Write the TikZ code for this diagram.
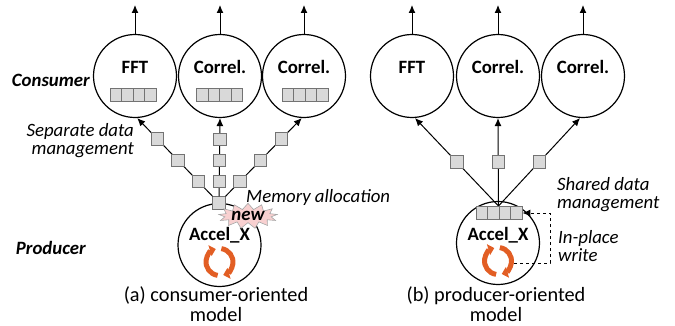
\documentclass[tikz,border=0pt]{standalone}
\usepackage{fontspec}
\setmainfont{Carlito}
\usetikzlibrary{arrows.meta,shapes.symbols}

\definecolor{iconorange}{RGB}{226,94,36}
\definecolor{cellgray}{RGB}{217,217,217}
\definecolor{burstpink}{RGB}{248,208,208}
\newcommand{\lblsize}{\fontsize{18.8}{18}\selectfont}
\newcommand{\capsize}{\fontsize{20.3}{19.5}\selectfont}

\begin{document}
\begin{tikzpicture}[x=1pt,y=1pt]
\tikzstyle{every node}+=[inner sep=0pt]
\tikzstyle{task}=[draw=black, circle, line width=1.2pt, minimum size=83pt]
\tikzstyle{tname}=[font=\lblsize\bfseries]
\tikzstyle{lbl}=[font=\lblsize\itshape]
\tikzstyle{cell}=[draw=black!55, fill=cellgray, line width=0.9pt, minimum width=11.5pt, minimum height=13.5pt]
\tikzstyle{pkt}=[draw=black!55, fill=cellgray, line width=0.9pt, minimum size=12.5pt]
\tikzstyle{flow}=[line width=1pt, -{Latex[length=8pt,width=7pt]}]
\tikzstyle{spin}=[draw=iconorange, line width=5pt, -{Triangle[length=6pt,width=11pt]}]
\useasboundingbox (0,0) rectangle (675,-326);

% (a) consumer-oriented
\node [task] (fftA) at (135,-76) {};
\node [task] (corA) at (220,-76) {};
\node [task] (cortA) at (304,-76) {};
\node [tname] (fftAt) at (135,-67) {FFT};
\node [tname] (corAt) at (220,-67) {Correl.};
\node [tname] (cortAt) at (304,-67) {Correl.};
\coordinate (fftAo) at (135,-5);
\coordinate (corAo) at (220,-5);
\coordinate (cortAo) at (304,-5);
\draw [flow] (fftA) -- (fftAo);
\draw [flow] (corA) -- (corAo);
\draw [flow] (cortA) -- (cortAo);
\foreach \k in {1,...,4} {
  \node [cell] (fftAb\k) at ({133+(\k-2.5)*11.5},-95) {};
  \node [cell] (corAb\k) at ({219.5+(\k-2.5)*11.5},-95) {};
  \node [cell] (cortAb\k) at ({305+(\k-2.5)*11.5},-95) {};
}
\node [task] (accA) at (219.5,-245) {};
\node [tname] (accAt) at (219.5,-235) {Accel\_X};
\coordinate (iconA) at (219.5,-262);
\draw [spin] ([shift={(262:13.5)}]iconA) arc [start angle=262, end angle=106, radius=13.5];
\draw [spin] ([shift={(82:13.5)}]iconA) arc [start angle=82, end angle=-74, radius=13.5];
\node [pkt] (hubA) at (219,-203) {};
\draw [flow] (hubA) -- (fftA.-87)
  node [pkt,pos=0.19] (qA1) {} node [pkt,pos=0.46] (qA2) {} node [pkt,pos=0.73] (qA3) {};
\draw [flow] (hubA) -- (corA.south)
  node [pkt,pos=0.19] (qB1) {} node [pkt,pos=0.46] (qB2) {} node [pkt,pos=0.73] (qB3) {};
\draw [flow] (hubA) -- (cortA.-93)
  node [pkt,pos=0.19] (qC1) {} node [pkt,pos=0.46] (qC2) {} node [pkt,pos=0.73] (qC3) {};
\node [starburst, draw=black!35, fill=burstpink, line width=0.6pt, starburst points=13,
  starburst point height=6pt, random starburst=0, minimum width=54pt, minimum height=18pt,
  font=\lblsize\bfseries\itshape] (newA) at (248,-216) {new};
\node [lbl, anchor=west] (memA) at (246,-197) {Memory allocation};
\node [lbl, align=right, anchor=east] (sepA) at (134,-141) {Separate data\\management};
\node [font=\lblsize\bfseries\itshape, anchor=east] (consA) at (90,-80) {Consumer};
\node [font=\lblsize\bfseries\itshape, anchor=east] (prodA) at (86,-248) {Producer};
\node [font=\capsize, align=center] (capA) at (216,-304) {(a) consumer-oriented\\model};

% (b) producer-oriented
\node [task] (fftB) at (412,-76) {};
\node [task] (corB) at (498,-76) {};
\node [task] (cortB) at (583,-76) {};
\node [tname] (fftBt) at (412,-67) {FFT};
\node [tname] (corBt) at (498,-67) {Correl.};
\node [tname] (cortBt) at (583,-67) {Correl.};
\coordinate (fftBo) at (412,-5);
\coordinate (corBo) at (498,-5);
\coordinate (cortBo) at (583,-5);
\draw [flow] (fftB) -- (fftBo);
\draw [flow] (corB) -- (corBo);
\draw [flow] (cortB) -- (cortBo);
\node [task] (accB) at (498,-243) {};
\node [tname] (accBt) at (498,-235) {Accel\_X};
\coordinate (iconB) at (498,-261);
\draw [spin] ([shift={(262:13.5)}]iconB) arc [start angle=262, end angle=106, radius=13.5];
\draw [spin] ([shift={(82:13.5)}]iconB) arc [start angle=82, end angle=-74, radius=13.5];
\coordinate (hubB) at (498.5,-206);
\draw [flow] (hubB) -- (fftB.-86) node [pkt,pos=0.5] (rA) {};
\draw [flow] (hubB) -- (corB.south) node [pkt,pos=0.5] (rB) {};
\draw [flow] (hubB) -- (cortB.-94) node [pkt,pos=0.5] (rC) {};
\foreach \k in {1,...,4}
  \node [cell] (accBb\k) at ({499+(\k-2.5)*11.5},-213) {};
\coordinate (dwA) at (514,-263);
\coordinate (dwB) at (550,-213);
\draw [dashed, line width=1pt, -{Latex[length=8pt,width=7pt]}] (dwA) -| (dwB) -- (accBb4.east);
\node [lbl, align=left, anchor=west] (shB) at (557,-195) {Shared data\\management};
\node [lbl, align=left, anchor=west] (ipB) at (558,-246) {In-place\\write};
\node [font=\capsize, align=center] (capB) at (496,-304) {(b) producer-oriented\\model};
\end{tikzpicture}
\end{document}
